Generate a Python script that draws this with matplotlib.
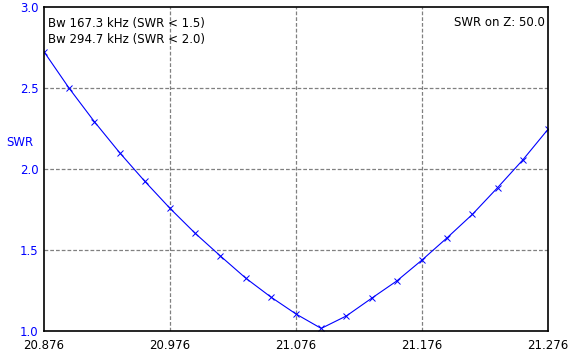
import matplotlib
matplotlib.use("Agg")
import matplotlib.pyplot as plt

# frequency (MHz) and SWR
freq_mhz = [20.876, 20.896, 20.916, 20.936, 20.956, 20.976, 20.996, 21.016, 21.036, 21.056, 21.076,
            21.096, 21.116, 21.136, 21.156, 21.176, 21.196, 21.216, 21.236, 21.256, 21.276]
swr = [2.724, 2.498, 2.292, 2.101, 1.924, 1.757, 1.603, 1.463, 1.327, 1.210, 1.105,
       1.016, 1.093, 1.202, 1.309, 1.438, 1.576, 1.720, 1.885, 2.056, 2.245]
x_ticks = [20.876, 20.976, 21.076, 21.176, 21.276]
y_ticks = [1.0, 1.5, 2.0, 2.5, 3.0]
bw_lines = ["Bw 167.3 kHz (SWR < 1.5)", "Bw 294.7 kHz (SWR < 2.0)"]
z_note = "SWR on Z: 50.0"

W, H = 578, 359
fig = plt.figure(figsize=(W / 100, H / 100), dpi=100)
ax = fig.add_axes([44 / W, (H - 331) / H, 504 / W, 324 / H])

ax.plot(freq_mhz, swr, color="#0000ff", lw=0.8, marker="x", ms=5, mew=0.7)

ax.set_xlim(x_ticks[0], x_ticks[-1])
ax.set_ylim(y_ticks[0], y_ticks[-1])
ax.set_xticks(x_ticks)
ax.set_xticklabels([f"{v:.3f}" for v in x_ticks])
ax.set_yticks(y_ticks)
ax.set_yticklabels([f"{v:.1f}" for v in y_ticks])
ax.tick_params(length=0, labelsize=8.5, pad=4)
ax.tick_params(axis="y", labelcolor="#0000ff", pad=4)
ax.tick_params(axis="x", pad=6)

for v in x_ticks[1:-1]:
    ax.axvline(v, color="#808080", lw=0.9, ls=(0, (3, 1.6)), zorder=0)
for v in y_ticks[1:-1]:
    ax.axhline(v, color="#808080", lw=0.9, ls=(0, (3, 1.6)), zorder=0)

for s in ax.spines.values():
    s.set_linewidth(1.2)
    s.set_color("black")

fig.text(6 / W, 1 - 143 / H, "SWR", color="#0000ff", fontsize=8.5, va="center", ha="left")
fig.text(48 / W, 1 - 23 / H, bw_lines[0], fontsize=8.5, va="center", ha="left")
fig.text(48 / W, 1 - 40 / H, bw_lines[1], fontsize=8.5, va="center", ha="left")
fig.text(545 / W, 1 - 23 / H, z_note, fontsize=8.5, va="center", ha="right")

fig.savefig("out.png", dpi=100)
